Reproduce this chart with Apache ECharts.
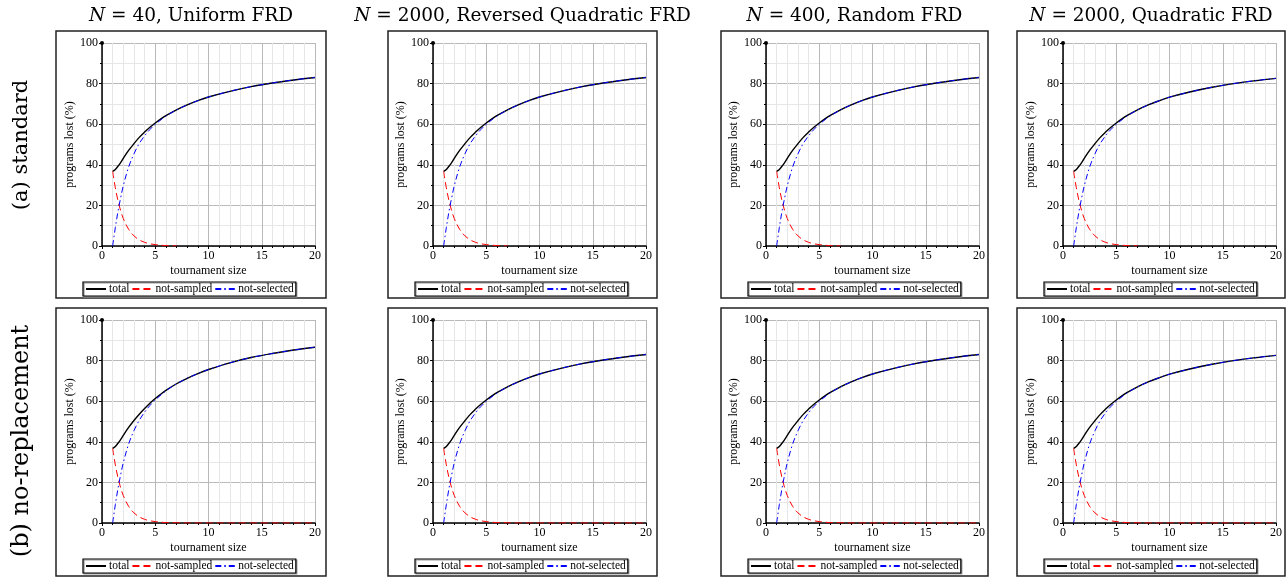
<!DOCTYPE html>
<html>
<head>
<meta charset="utf-8">
<script src="https://cdn.jsdelivr.net/npm/echarts@6/dist/echarts.min.js"></script>
<style>
html,body{margin:0;padding:0;background:#fff;}
#chart{width:1286px;height:579px;}
</style>
</head>
<body>
<div id="chart"></div>
<script>
// ---------- data ----------
const tournamentSizes = [1, 1.25, 1.5, 1.75, 2, 2.5, 3, 3.5, 4, 4.5, 5, 6, 7, 8, 9, 10, 12, 14, 16, 18, 20];

const totalStd       = [36.8, 37.7, 39.3, 41.1, 43.2, 47.1, 50.4, 53.5, 56.1, 58.5, 60.6, 64.2, 67.1, 69.5, 71.6, 73.4, 76.2, 78.5, 80.3, 81.8, 83.0];
const selectedStd    = [0, 9.0, 17.0, 23.7, 29.7, 38.9, 45.4, 50.5, 54.3, 57.4, 59.9, 64.0, 67.0, 69.5, 71.6, 73.4, 76.2, 78.5, 80.3, 81.8, 83.0];

const totalQuad      = [36.8, 37.7, 39.3, 41.1, 43.2, 47.1, 50.4, 53.5, 56.1, 58.5, 60.6, 64.2, 67.1, 69.5, 71.5, 73.3, 76.0, 78.2, 80.0, 81.4, 82.6];
const selectedQuad   = [0, 9.0, 17.0, 23.7, 29.7, 38.9, 45.4, 50.5, 54.3, 57.4, 59.9, 64.0, 67.0, 69.5, 71.5, 73.3, 76.0, 78.2, 80.0, 81.4, 82.6];

const totalNoRep40    = [36.8, 37.7, 39.3, 41.1, 43.2, 47.1, 50.5, 53.6, 56.4, 59.0, 61.3, 65.3, 68.6, 71.3, 73.6, 75.6, 78.9, 81.5, 83.5, 85.2, 86.6];
const selectedNoRep40 = [0, 9.0, 17.0, 23.7, 29.7, 38.9, 45.5, 50.6, 54.6, 57.9, 60.6, 65.1, 68.5, 71.3, 73.6, 75.6, 78.9, 81.5, 83.5, 85.2, 86.6];

const sampledStd   = [36.8, 28.7, 22.3, 17.4, 13.5, 8.2, 5.0, 3.0, 1.8, 1.1, 0.7, 0.2, 0.1, null, null, null, null, null, null, null, null];
const sampledNoRep = [36.8, 28.7, 22.3, 17.4, 13.5, 8.2, 5.0, 3.0, 1.8, 1.1, 0.7, 0.2, 0.1, 0, 0, 0, 0, 0, 0, 0, 0];

const panelTitles = ['N = 40, Uniform FRD', 'N = 2000, Reversed Quadratic FRD', 'N = 400, Random FRD', 'N = 2000, Quadratic FRD'];
const rowLabels = ['(a) standard', '(b) no-replacement'];
const seriesNames = ['total', 'not-sampled', 'not-selected'];
const xTicks = [0, 5, 10, 15, 20];
const yTicks = [0, 20, 40, 60, 80, 100];
const xAxisName = 'tournament size';
const yAxisName = 'programs lost (%)';

// panel [row][col] -> [total, not-sampled, not-selected]
const panelData = [
  [[totalStd, sampledStd, selectedStd], [totalStd, sampledStd, selectedStd], [totalStd, sampledStd, selectedStd], [totalQuad, sampledStd, selectedQuad]],
  [[totalNoRep40, sampledNoRep, selectedNoRep40], [totalStd, sampledNoRep, selectedStd], [totalStd, sampledNoRep, selectedStd], [totalQuad, sampledNoRep, selectedQuad]]
];

// ---------- layout ----------
const colPlotLeft = [102, 433, 766, 1063];
const rowPlotTop = [43, 320];
const plotW = 213, plotH = 203;
const colFrameLeft = [56, 388, 721, 1017];
const colFrameW = [270, 269, 267, 268];
const rowFrameTop = [31, 308];
const rowFrameH = [267, 268];

const serif = 'Liberation Serif';
const titleFont = 'DejaVu Serif';
const seriesStyles = [
  {color: '#000000', width: 1.4, type: 'solid'},
  {color: '#ff0000', width: 1, type: [7, 4]},
  {color: '#0000ff', width: 1, type: [6, 3, 1.5, 3]}
];

const grids = [], xAxes = [], yAxes = [], series = [], legends = [], graphics = [];
let gi = 0;
for (let r = 0; r < 2; r++) {
  for (let c = 0; c < 4; c++) {
    grids.push({left: colPlotLeft[c], top: rowPlotTop[r], width: plotW, height: plotH, containLabel: false});
    xAxes.push({
      type: 'value', gridIndex: gi, min: xTicks[0], max: xTicks[xTicks.length - 1], interval: xTicks[1] - xTicks[0],
      name: xAxisName, nameLocation: 'middle', nameGap: 19,
      nameTextStyle: {fontFamily: serif, fontSize: 12, color: '#000'},
      axisLine: {show: true, onZero: false, lineStyle: {color: '#000', width: 1.5}},
      axisTick: {show: true, length: 3, lineStyle: {color: '#000', width: 1}},
      minorTick: {show: true, splitNumber: 5, length: 2, lineStyle: {color: '#000', width: 1}},
      splitLine: {show: true, lineStyle: {color: '#b9b9b9', width: 1}},
      minorSplitLine: {show: true, lineStyle: {color: '#e6e6e6', width: 1}},
      axisLabel: {fontFamily: serif, fontSize: 12, color: '#000', margin: 4}
    });
    yAxes.push({
      type: 'value', gridIndex: gi, min: yTicks[0], max: yTicks[yTicks.length - 1], interval: yTicks[1] - yTicks[0],
      name: yAxisName, nameLocation: 'middle', nameGap: 24, nameRotate: 90,
      nameTextStyle: {fontFamily: serif, fontSize: 12, color: '#000'},
      axisLine: {show: true, onZero: false, symbol: ['none', 'circle'], symbolSize: [4, 4], lineStyle: {color: '#000', width: 1.5}},
      axisTick: {show: true, length: 3, lineStyle: {color: '#000', width: 1}},
      minorTick: {show: true, splitNumber: 2, length: 2, lineStyle: {color: '#000', width: 1}},
      splitLine: {show: true, lineStyle: {color: '#b9b9b9', width: 1}},
      minorSplitLine: {show: true, lineStyle: {color: '#e6e6e6', width: 1}},
      axisLabel: {fontFamily: serif, fontSize: 12, color: '#000', margin: 4}
    });
    const d = panelData[r][c];
    for (let s = 0; s < 3; s++) {
      series.push({
        type: 'line', name: seriesNames[s], xAxisIndex: gi, yAxisIndex: gi,
        data: tournamentSizes.map((t, i) => [t, d[s][i]]),
        showSymbol: false, symbol: 'none', smooth: 0.35, connectNulls: false,
        lineStyle: {color: seriesStyles[s].color, width: seriesStyles[s].width, type: seriesStyles[s].type},
        itemStyle: {color: seriesStyles[s].color},
        z: 3 + s, animation: false, silent: true
      });
    }
    legends.push({
      data: seriesNames, left: colFrameLeft[c] + 27, top: rowFrameTop[r] + 251,
      orient: 'horizontal', itemGap: 2, itemWidth: 20, itemHeight: 10, padding: [1, 2],
      borderColor: '#000', borderWidth: 1.2, backgroundColor: '#fff',
      shadowColor: '#999', shadowOffsetX: 1, shadowOffsetY: 1, shadowBlur: 0,
      selectedMode: false,
      itemStyle: {opacity: 0, color: 'rgba(0,0,0,0)', borderWidth: 0},
      textStyle: {fontFamily: serif, fontSize: 11.5, color: '#000', padding: [0, 0, 0, -2]}
    });
    graphics.push({
      type: 'rect', silent: true, z: 0,
      shape: {x: colFrameLeft[c], y: rowFrameTop[r], width: colFrameW[c], height: rowFrameH[r]},
      style: {fill: null, stroke: '#222', lineWidth: 1.5}
    });
    gi++;
  }
}
for (let c = 0; c < 4; c++) {
  const t = panelTitles[c];
  graphics.push({
    type: 'text', silent: true,
    x: colFrameLeft[c] + colFrameW[c] / 2, y: 16,
    style: {
      text: '{i|N}{n|' + t.slice(1) + '}',
      align: 'center', verticalAlign: 'middle',
      rich: {
        i: {fontFamily: titleFont, fontStyle: 'italic', fontSize: 18.5, fill: '#000'},
        n: {fontFamily: titleFont, fontSize: 18.5, fill: '#000'}
      }
    }
  });
}
const rowLabelY = [145, 441];
const rowLabelSize = [21, 24];
for (let r = 0; r < 2; r++) {
  graphics.push({
    type: 'text', silent: true, x: 22, y: rowLabelY[r], rotation: Math.PI / 2,
    style: {text: rowLabels[r], fontFamily: titleFont, fontSize: rowLabelSize[r], fill: '#000', align: 'center', verticalAlign: 'middle'}
  });
}

const chart = echarts.init(document.getElementById('chart'), null, {renderer: 'canvas'});
chart.setOption({
  animation: false,
  backgroundColor: '#fff',
  grid: grids, xAxis: xAxes, yAxis: yAxes, series: series, legend: legends,
  graphic: graphics
});
</script>
</body>
</html>
